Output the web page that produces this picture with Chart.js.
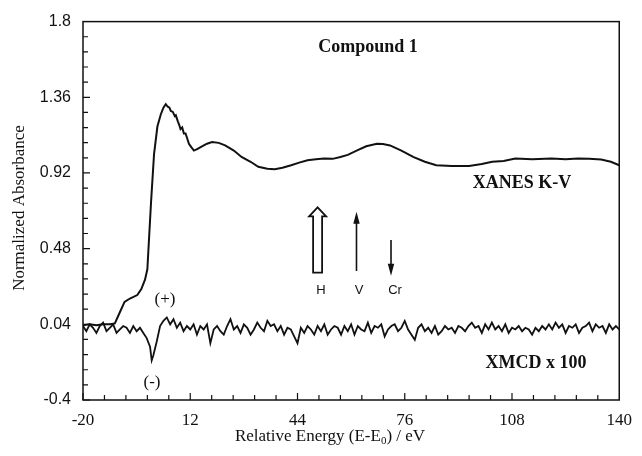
<!DOCTYPE html>
<html lang="en">
<head>
<meta charset="UTF-8">
<title>Compound 1 XANES / XMCD</title>
<script src="https://cdn.jsdelivr.net/npm/chart.js"></script>
<style>
  body {
    margin: 0;
    background-color: #fff;
  }
  #wrap {
    width: 642px;
    height: 456px;
  }
</style>
</head>
<body>
<div id="wrap"><canvas id="chart" width="642" height="456"></canvas></div>
<script>
// axis ticks
const xTicks = [-20, 12, 44, 76, 108, 140];
const yTicks = [-0.4, 0.04, 0.48, 0.92, 1.36, 1.8];

// XANES K-V edge
const xanesE = [-20, -18, -16, -14, -12, -10.5, -9, -7.6, -6, -3.8, -2.6, -1.5, -0.8, 0.3, 1.2, 2.2, 3.2, 4.0, 4.7, 5.3,
  5.8, 6.2, 6.8, 7.4, 7.7, 8.3, 8.7, 9.1, 9.6, 10.1, 10.6, 11.1, 11.6, 12.3, 13.1, 14.2, 15.5, 17, 18.5, 20.5,
  22.4, 25, 27.3, 30, 32.3, 35, 37.2, 39.5, 42.1, 44.5, 47, 49.5, 51.9, 54.5, 56.8, 59, 61.8, 64.5, 67.7, 69.5,
  71.6, 75, 78.5, 82, 85.4, 90, 95.2, 99, 102.1, 105.5, 109, 114, 119.8, 124, 127.7, 131, 134.6, 137.5, 140];
const xanesAbs = [0.035, 0.04, 0.035, 0.04, 0.04, 0.045, 0.11, 0.17, 0.19, 0.21, 0.245, 0.30, 0.36, 0.75, 1.03, 1.19, 1.26, 1.30, 1.32, 1.305,
  1.30, 1.28, 1.275, 1.25, 1.255, 1.22, 1.20, 1.175, 1.185, 1.15, 1.15, 1.12, 1.09, 1.07, 1.05, 1.06, 1.075, 1.09, 1.10, 1.095,
  1.08, 1.05, 1.013, 0.985, 0.956, 0.945, 0.941, 0.95, 0.965, 0.98, 0.994, 1.0, 1.004, 1.002, 1.013, 1.025, 1.051, 1.075, 1.09, 1.088,
  1.08, 1.05, 1.013, 0.985, 0.965, 0.96, 0.96, 0.972, 0.985, 0.99, 1.004, 1.0, 1.004, 1.0, 1.004, 1.002, 0.998, 0.985, 0.965];

// XMCD x 100 (noisy trace)
const xmcdE = [-20, -19, -18, -17, -16, -15, -14, -13, -12, -11, -10, -9, -8, -7, -6, -5, -4, -3, -2, -1,
  0, 0.5, 1, 2, 3, 4, 5, 6, 7, 8, 9, 10, 11, 12, 13, 14, 15, 16, 17, 18,
  19, 20, 21, 22, 23, 24, 25, 26, 27, 28, 29, 30, 31, 32, 33, 34, 35, 36, 37, 38,
  39, 40, 41, 42, 43, 44, 45, 46, 47, 48, 49, 50, 51, 52, 53, 54, 55, 56, 57, 58,
  59, 60, 61, 62, 63, 64, 65, 66, 67, 68, 69, 70, 71, 72, 73, 74, 75, 76, 77, 78,
  79, 80, 81, 82, 83, 84, 85, 86, 87, 88, 89, 90, 91, 92, 93, 94, 95, 96, 97, 98,
  99, 100, 101, 102, 103, 104, 105, 106, 107, 108, 109, 110, 111, 112, 113, 114, 115, 116, 117, 118,
  119, 120, 121, 122, 123, 124, 125, 126, 127, 128, 129, 130, 131, 132, 133, 134, 135, 136, 137, 138,
  139, 140];
const xmcdVal = [0.03, 0.00, 0.04, 0.02, -0.01, 0.03, 0.05, 0.00, 0.02, 0.04, -0.01, 0.01, 0.03, 0.02, -0.01, 0.03, 0.00, 0.02, -0.01, -0.04,
  -0.09, -0.17, -0.14, -0.06, 0.03, 0.06, 0.08, 0.04, 0.07, 0.02, 0.05, 0.00, 0.03, 0.01, 0.04, -0.02, 0.03, 0.01, 0.04, -0.07,
  0.01, 0.03, 0.00, -0.02, 0.03, 0.07, 0.01, 0.03, -0.01, 0.04, 0.02, -0.02, 0.01, 0.05, 0.02, 0.00, 0.06, 0.03, 0.04, 0.00,
  0.03, -0.02, 0.02, 0.01, -0.03, -0.07, 0.02, -0.01, 0.03, 0.01, -0.02, 0.03, 0.00, 0.04, -0.02, 0.01, 0.03, 0.02, -0.02, 0.03,
  0.00, 0.04, -0.02, 0.03, 0.01, 0.00, 0.05, -0.01, 0.03, 0.02, 0.04, -0.03, 0.01, 0.03, 0.04, 0.00, 0.02, 0.06, 0.01, -0.02,
  -0.05, 0.02, 0.04, 0.00, 0.02, -0.01, 0.03, -0.02, 0.00, 0.03, 0.01, 0.02, -0.01, 0.03, 0.02, 0.00, 0.03, 0.05, 0.02, 0.03,
  -0.01, 0.04, 0.01, 0.05, 0.01, 0.03, 0.00, 0.04, -0.01, 0.02, 0.01, 0.03, 0.00, 0.02, 0.01, -0.02, 0.02, 0.00, 0.03, 0.01,
  0.04, 0.01, 0.05, 0.02, 0.04, -0.01, 0.03, 0.02, 0.04, -0.01, 0.02, 0.03, 0.05, 0.00, 0.04, 0.02, 0.03, -0.01, 0.04, 0.01,
  0.03, 0.01];

function toPoints(xs, ys) {
  return xs.map((x, i) => ({ x: x, y: ys[i] }));
}

const serif = '"Liberation Serif", "Times New Roman", serif';
const sans = '"Liberation Sans", Arial, sans-serif';
const ink = '#111';

// frame, inward ticks, text labels and the H / V / Cr arrows
const decorPlugin = {
  id: 'decor',
  afterDatasetsDraw(chart) {
    const ctx = chart.ctx;
    const a = chart.chartArea;
    const xs = chart.scales.x;
    const ys = chart.scales.y;
    ctx.save();
    ctx.strokeStyle = ink;
    ctx.fillStyle = ink;

    ctx.lineWidth = 1.5;
    ctx.strokeRect(a.left, a.top, a.right - a.left, a.bottom - a.top);

    // inward ticks, 5 per major interval
    ctx.lineWidth = 1.2;
    ctx.beginPath();
    for (let i = 0; i < xTicks.length - 1; i++) {
      for (let k = 0; k < 5; k++) {
        const px = xs.getPixelForValue(xTicks[i] + k * (xTicks[i + 1] - xTicks[i]) / 5);
        ctx.moveTo(px, a.bottom);
        ctx.lineTo(px, a.bottom - (k === 0 ? 7 : 5));
      }
    }
    for (let i = 0; i < yTicks.length - 1; i++) {
      for (let k = 0; k < 5; k++) {
        const py = ys.getPixelForValue(yTicks[i] + k * (yTicks[i + 1] - yTicks[i]) / 5);
        ctx.moveTo(a.left, py);
        ctx.lineTo(a.left + (k === 0 ? 7 : 5), py);
      }
    }
    ctx.stroke();

    // labels inside the plot
    ctx.textAlign = 'center';
    ctx.textBaseline = 'middle';
    ctx.font = 'bold 18px ' + serif;
    ctx.fillText('Compound 1', 368, 47);
    ctx.fillText('XANES K-V', 522, 183);
    ctx.fillText('XMCD x 100', 536, 363);
    ctx.font = '17px ' + serif;
    ctx.fillText('(+)', 165, 300);
    ctx.fillText('(-)', 152, 383);
    ctx.font = '13px ' + sans;
    ctx.fillText('H', 321, 290);
    ctx.fillText('V', 359, 290);
    ctx.fillText('Cr', 395, 290);

    // hollow H arrow
    const hx = xs.getPixelForValue(50);
    const hTop = ys.getPixelForValue(0.72);
    const hBot = ys.getPixelForValue(0.34);
    ctx.lineWidth = 1.8;
    ctx.beginPath();
    ctx.moveTo(hx, hTop);
    ctx.lineTo(hx + 8.5, hTop + 9);
    ctx.lineTo(hx + 4.5, hTop + 9);
    ctx.lineTo(hx + 4.5, hBot);
    ctx.lineTo(hx - 4.5, hBot);
    ctx.lineTo(hx - 4.5, hTop + 9);
    ctx.lineTo(hx - 8.5, hTop + 9);
    ctx.closePath();
    ctx.stroke();

    // thin V (up) and Cr (down) arrows
    function arrow(xv, fromY, toY) {
      const px = xs.getPixelForValue(xv);
      const y0 = ys.getPixelForValue(fromY);
      const y1 = ys.getPixelForValue(toY);
      const dir = y1 < y0 ? 1 : -1;
      ctx.lineWidth = 1.6;
      ctx.beginPath();
      ctx.moveTo(px, y0);
      ctx.lineTo(px, y1 + dir * 10);
      ctx.stroke();
      ctx.beginPath();
      ctx.moveTo(px, y1);
      ctx.lineTo(px + 3.2, y1 + dir * 12);
      ctx.lineTo(px - 3.2, y1 + dir * 12);
      ctx.closePath();
      ctx.fill();
    }
    arrow(61.6, 0.35, 0.695);
    arrow(71.9, 0.53, 0.322);

    // axis titles
    ctx.font = '17px ' + serif;
    ctx.save();
    ctx.translate(20, 208);
    ctx.rotate(-Math.PI / 2);
    ctx.fillText('Normalized Absorbance', 0, 0);
    ctx.restore();

    const partA = 'Relative Energy (E-E';
    const partB = ') / eV';
    ctx.font = '17px ' + serif;
    const wA = ctx.measureText(partA).width;
    const wB = ctx.measureText(partB).width;
    ctx.font = '11px ' + serif;
    const wSub = ctx.measureText('0').width;
    let x0 = 330 - (wA + wSub + wB) / 2;
    ctx.textAlign = 'left';
    ctx.font = '17px ' + serif;
    ctx.fillText(partA, x0, 437);
    ctx.font = '11px ' + serif;
    ctx.fillText('0', x0 + wA, 441);
    ctx.font = '17px ' + serif;
    ctx.fillText(partB, x0 + wA + wSub, 437);

    ctx.restore();
  }
};

const ctx = document.getElementById('chart').getContext('2d');
new Chart(ctx, {
  type: 'line',
  data: {
    datasets: [
      {
        label: 'XANES K-V',
        data: toPoints(xanesE, xanesAbs),
        borderColor: ink,
        borderWidth: 2,
        pointRadius: 0,
        tension: 0,
        fill: false
      },
      {
        label: 'XMCD x 100',
        data: toPoints(xmcdE, xmcdVal),
        borderColor: ink,
        borderWidth: 1.8,
        pointRadius: 0,
        tension: 0,
        fill: false
      }
    ]
  },
  options: {
    responsive: false,
    animation: false,
    layout: { padding: { top: 16, right: 17, left: 0, bottom: 0 } },
    plugins: {
      legend: { display: false },
      tooltip: { enabled: false }
    },
    scales: {
      x: {
        type: 'linear',
        min: -20,
        max: 140,
        grid: { display: false, drawTicks: false },
        border: { display: false },
        ticks: {
          stepSize: 32,
          padding: 10,
          color: ink,
          font: { family: serif, size: 17 },
          callback: v => String(v)
        },
        afterFit: s => { s.height = 56; }
      },
      y: {
        type: 'linear',
        min: -0.4,
        max: 1.8,
        grid: { display: false, drawTicks: false },
        border: { display: false },
        ticks: {
          stepSize: 0.44,
          padding: 12,
          color: ink,
          font: { family: sans, size: 16 },
          callback: v => String(Math.round(v * 100) / 100)
        },
        afterFit: s => { s.width = 83; }
      }
    }
  },
  plugins: [decorPlugin]
});
</script>
</body>
</html>
